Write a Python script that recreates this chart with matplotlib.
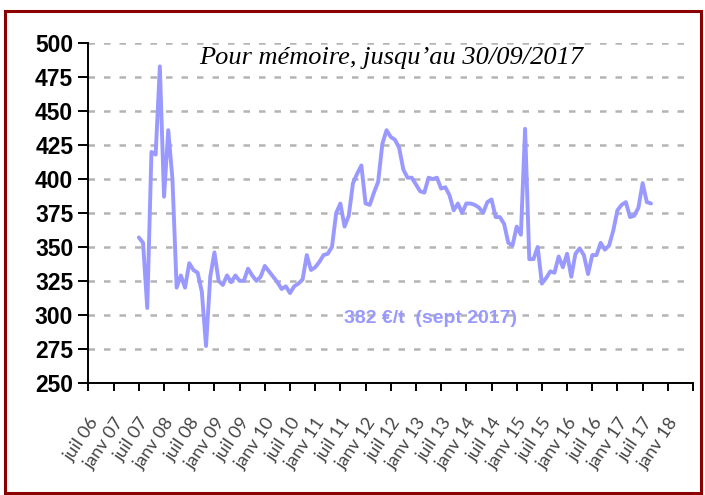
import numpy as np
import matplotlib
matplotlib.use("Agg")
import matplotlib.pyplot as plt
from matplotlib.patches import Rectangle

# mois depuis juillet 2006 (0 = juil 06), série mensuelle juil 07 -> sept 17
start_month = 12
prices = [
    357, 353, 305, 420, 418, 483, 387, 436, 400, 320, 329, 320,   # juil 07 - juin 08
    338, 333, 331, 317, 277, 328, 346, 325, 322, 329, 324, 329,   # juil 08 - juin 09
    325, 325, 334, 329, 325, 328, 336, 332, 328, 324, 319, 321,   # juil 09 - juin 10
    316, 321, 323, 326, 344, 333, 335, 339, 344, 345, 350, 375,   # juil 10 - juin 11
    382, 365, 373, 397, 404, 410, 382, 381, 390, 398, 426, 436,   # juil 11 - juin 12
    431, 429, 423, 407, 401, 401, 396, 391, 390, 401, 400, 401,   # juil 12 - juin 13
    393, 394, 388, 377, 382, 375, 382, 382, 381, 379, 375, 383,   # juil 13 - juin 14
    385, 372, 372, 367, 353, 351, 365, 359, 437, 341, 341, 350,   # juil 14 - juin 15
    323, 327, 332, 331, 343, 335, 345, 328, 345, 349, 344, 330,   # juil 15 - juin 16
    344, 344, 353, 348, 351, 362, 377, 381, 383, 372, 373, 379,   # juil 16 - juin 17
    397, 383, 382,                                                 # juil 17 - sept 17
]
tick_labels = []
for yr in range(6, 18):
    tick_labels += [f"juil {yr:02d}", f"janv {yr + 1:02d}"]
y_ticks = list(range(250, 501, 25))

months = np.arange(start_month, start_month + len(prices))

fig = plt.figure(figsize=(7.05, 4.95), dpi=100)
ax = fig.add_axes([0.1255, 0.2269, 0.8575, 0.6856])

# grille pointillée
for yv in y_ticks[1:]:
    ax.axhline(yv, color="#b4b4b4", lw=1.8, ls=(0, (2.6, 3.6)), zorder=1)

ax.plot(months, prices, color="#9999ff", lw=2.8, solid_joinstyle="round",
        solid_capstyle="round", zorder=3)

ax.set_xlim(0, 144)
ax.set_ylim(250, 500)
ax.set_yticks(y_ticks)
ax.set_yticklabels([str(v) for v in y_ticks], fontsize=16.5, fontweight="bold",
                   family="Liberation Sans")
ax.set_xticks(np.arange(0, 145, 6))
ax.set_xticklabels(tick_labels + [""], rotation=56, ha="right", va="top",
                   rotation_mode="anchor", fontsize=13, color="#444444",
                   family="Lato")
ax.tick_params(axis="y", direction="out", length=7, width=1.4, pad=4)
ax.tick_params(axis="x", direction="out", length=6, width=1.4, pad=17)
for s in ("top", "right"):
    ax.spines[s].set_visible(False)
for s in ("left", "bottom"):
    ax.spines[s].set_linewidth(1.4)

ax.text(0.5, 0.956, "Pour mémoire, jusqu’au 30/09/2017", transform=ax.transAxes,
        ha="center", va="center", fontsize=19, style="italic",
        family="Liberation Serif")
ax.text(0.566, 0.19, "382 €/t  (sept 2017)", transform=ax.transAxes,
        ha="center", va="center", fontsize=14, fontweight="bold",
        color="#9999ff", family="Liberation Sans")

# cadre rouge
fig.patches.append(Rectangle((5 / 705, 2 / 495), 696 / 705, 482 / 495,
                             transform=fig.transFigure, fill=False,
                             edgecolor="#8b0000", lw=2.2))

fig.savefig("out.png", dpi=100)
